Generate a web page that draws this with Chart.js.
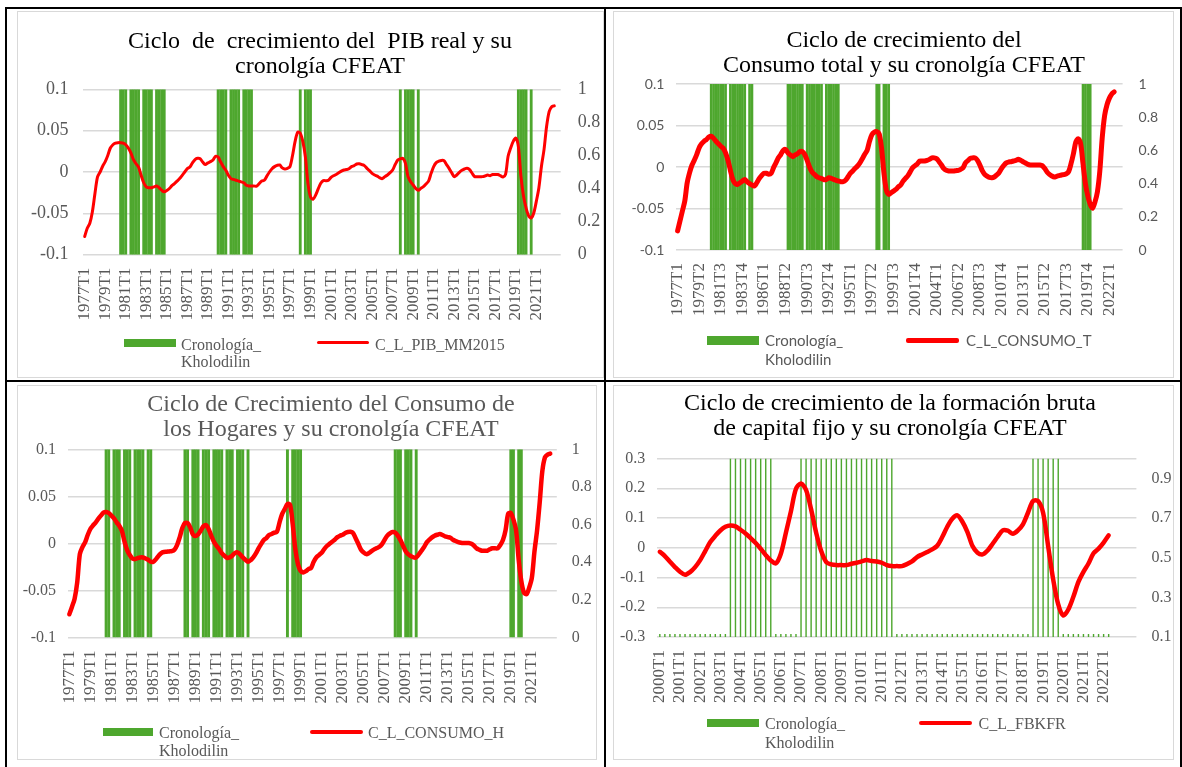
<!DOCTYPE html>
<html lang="es">
<head>
<meta charset="utf-8">
<title>Ciclos de crecimiento y cronología CFEAT</title>
<script src="https://cdn.jsdelivr.net/npm/chart.js@4.4.1/dist/chart.umd.min.js"></script>
<style>
  html, body { margin: 0; padding: 0; background: #fff; }
  #page { position: relative; width: 1182px; height: 767px; overflow: hidden; }
  .rule { position: absolute; background: #000; }
  .box { position: absolute; box-sizing: border-box; border: 1px solid #d9d9d9; background: #fff; }
  .box canvas { position: absolute; left: 0; top: 0; }
  .title { position: absolute; width: 520px; text-align: center; font-family: "Liberation Serif", serif;
           font-size: 24px; line-height: 24.5px; color: #000; white-space: pre; }
  .sw { position: absolute; background: #4ea72e; }
  .ln { position: absolute; background: #ff0000; border-radius: 2px; }
  .lg { position: absolute; font-family: "Liberation Serif", serif; font-size: 16px; line-height: 17px;
        color: #595959; white-space: pre; }
  .lg.sans { font-family: Lato, sans-serif; font-size: 15px; line-height: 19px; }
</style>
</head>
<body>
<div id="page">
  <div class="box" style="left:17px;top:11px;width:587px;height:367px"><canvas id="pibChart" width="585" height="365"></canvas></div>
  <div class="box" style="left:613px;top:11px;width:561px;height:367px"><canvas id="consumoTChart" width="559" height="365"></canvas></div>
  <div class="box" style="left:17px;top:385px;width:580px;height:375px"><canvas id="consumoHChart" width="578" height="373"></canvas></div>
  <div class="box" style="left:613px;top:385px;width:561px;height:375px"><canvas id="fbkfChart" width="559" height="373"></canvas></div>

  <div class="rule" style="left:5px;top:7px;width:1177px;height:2px"></div>
  <div class="rule" style="left:5px;top:380px;width:1177px;height:2px"></div>
  <div class="rule" style="left:5px;top:7px;width:2px;height:760px"></div>
  <div class="rule" style="left:604px;top:7px;width:2px;height:760px"></div>
  <div class="rule" style="left:1180px;top:7px;width:2px;height:760px"></div>

  <div class="title" style="left:60px;top:28px">Ciclo  de  crecimiento del  PIB real y su
cronolgía CFEAT</div>
  <div class="title" style="left:644px;top:27.3px">Ciclo de crecimiento del
Consumo total y su cronolgía CFEAT</div>
  <div class="title" style="left:71px;top:391.3px;color:#595959">Ciclo de Crecimiento del Consumo de
los Hogares y su cronolgía CFEAT</div>
  <div class="title" style="left:630px;top:390.3px">Ciclo de crecimiento de la formación bruta
de capital fijo y su cronolgía CFEAT</div>

  <div class="sw" style="left:124px;top:339px;width:52px;height:8px"></div>
  <div class="lg" style="left:181px;top:336px">Cronología_
Kholodilin</div>
  <div class="ln" style="left:317px;top:340.5px;width:52px;height:3px"></div>
  <div class="lg" style="left:375px;top:336px">C_L_PIB_MM2015</div>

  <div class="sw" style="left:707px;top:336px;width:52px;height:9px"></div>
  <div class="lg sans" style="left:765px;top:330.7px">Cronología_
Kholodilin</div>
  <div class="ln" style="left:906px;top:338px;width:53px;height:4.5px"></div>
  <div class="lg sans" style="left:966px;top:330.7px">C_L_CONSUMO_T</div>

  <div class="sw" style="left:102.6px;top:728.3px;width:50.5px;height:7.7px"></div>
  <div class="lg" style="left:159px;top:723.7px;line-height:18.4px">Cronología_
Kholodilin</div>
  <div class="ln" style="left:310px;top:729.7px;width:53px;height:4px"></div>
  <div class="lg" style="left:368px;top:723.7px">C_L_CONSUMO_H</div>

  <div class="sw" style="left:707px;top:719.3px;width:52px;height:7.4px"></div>
  <div class="lg" style="left:765px;top:715.4px;line-height:18.3px">Cronología_
Kholodilin</div>
  <div class="ln" style="left:919px;top:720.7px;width:53px;height:4px"></div>
  <div class="lg" style="left:978.6px;top:715.4px">C_L_FBKFR</div>
</div>

<script>
// ---- data ----
// quarterly axes: first year, quarters with data, trailing unlabeled categories
const quarterAxisLong = { start: 1977, count: 184, blanks: 2 };
const quarterAxisFbkf = { start: 2000, count: 90, blanks: 5 };

const leftTicksCons = [-0.1, -0.05, 0, 0.05, 0.1];
const rightTicksCons = [0, 0.2, 0.4, 0.6, 0.8, 1];
const leftTicksFbkf = [-0.3, -0.2, -0.1, 0, 0.1, 0.2, 0.3];
const rightTicksFbkf = [0.1, 0.3, 0.5, 0.7, 0.9];

// C_L_PIB_MM2015, 1977T1..2022T4
const pibCycle = [
  -0.078, -0.068, -0.062, -0.048,
  -0.026, -0.006, 0.000, 0.007,
  0.0125, 0.020, 0.029, 0.033,
  0.035, 0.0355, 0.0355, 0.035,
  0.033, 0.029, 0.023, 0.015,
  0.010, 0.006, -0.004, -0.013,
  -0.018, -0.019, -0.019, -0.018,
  -0.017, -0.019, -0.022, -0.024,
  -0.0225, -0.020, -0.0165, -0.014,
  -0.011, -0.008, -0.004, 0.000,
  0.004, 0.006, 0.011, 0.015,
  0.0165, 0.016, 0.012, 0.009,
  0.011, 0.0125, 0.0145, 0.019,
  0.018, 0.012, 0.0065, 0.002,
  -0.004, -0.008, -0.009, -0.010,
  -0.011, -0.012, -0.013, -0.016,
  -0.017, -0.017, -0.017, -0.017,
  -0.014, -0.011, -0.010, -0.005,
  0.000, 0.004, 0.0065, 0.008,
  0.0085, 0.005, 0.0036, 0.0044,
  0.0065, 0.020, 0.037, 0.048,
  0.047, 0.037, 0.0185, -0.0137,
  -0.030, -0.033, -0.028, -0.0205,
  -0.0137, -0.0105, -0.0105, -0.010,
  -0.0065, -0.0045, -0.003, -0.001,
  0.001, 0.0024, 0.003, 0.004,
  0.0065, 0.0077, 0.0097, 0.010,
  0.009, 0.0077, 0.0044, 0.0016,
  -0.0016, -0.0036, -0.005, -0.007,
  -0.008, -0.0056, -0.0036, -0.0008,
  0.0024, 0.009, 0.0145, 0.016,
  0.0165, 0.0105, -0.0056, -0.0117,
  -0.0157, -0.0198, -0.022, -0.0198,
  -0.0177, -0.0145, -0.011, -0.0016,
  0.0065, 0.0113, 0.013, 0.014,
  0.0137, 0.009, 0.0044, -0.0008,
  -0.0056, -0.0036, -0.0004, 0.002,
  0.0036, 0.0044, 0.0028, -0.0016,
  -0.0056, -0.0056, -0.0056, -0.0056,
  -0.0048, -0.0036, -0.0044, -0.003,
  -0.003, -0.003, -0.0045, -0.006,
  -0.003, 0.019, 0.029, 0.037,
  0.041, 0.031, -0.005, -0.029,
  -0.0435, -0.053, -0.0556, -0.0496,
  -0.0355, -0.019, 0.007, 0.027,
  0.055, 0.073, 0.079, 0.080
];

// C_L_CONSUMO_T, 1977T1..2022T3
const consumoTCycle = [
  -0.077, -0.065, -0.053, -0.041,
  -0.019, -0.0068, 0.0024, 0.0084,
  0.0153, 0.0233, 0.028, 0.031,
  0.033, 0.036, 0.037, 0.0345,
  0.031, 0.028, 0.025, 0.0225,
  0.017, 0.008, -0.004, -0.015,
  -0.020, -0.021, -0.019, -0.017,
  -0.015, -0.018, -0.020, -0.0217,
  -0.023, -0.019, -0.014, -0.0104,
  -0.0076, -0.0076, -0.0088, -0.0076,
  -0.0008, 0.005, 0.011, 0.015,
  0.020, 0.021, 0.017, 0.0145,
  0.0125, 0.0145, 0.016, 0.0185,
  0.0185, 0.015, 0.008, 0.000,
  -0.006, -0.0088, -0.0116, -0.0129,
  -0.014, -0.0153, -0.0149, -0.0129,
  -0.0137, -0.0149, -0.016, -0.0169,
  -0.0177, -0.0177, -0.016, -0.012,
  -0.0076, -0.0048, -0.0016, 0.0012,
  0.005, 0.010, 0.0153, 0.020,
  0.031, 0.039, 0.042, 0.0425,
  0.040, 0.023, -0.0068, -0.0277,
  -0.033, -0.031, -0.029, -0.027,
  -0.024, -0.0217, -0.017, -0.0137,
  -0.0104, -0.0056, -0.0008, 0.0016,
  0.004, 0.0072, 0.0072, 0.0072,
  0.008, 0.0092, 0.011, 0.011,
  0.010, 0.0064, 0.0024, -0.002,
  -0.004, -0.0048, -0.0048, -0.0048,
  -0.0044, -0.004, -0.0028, -0.0008,
  0.005, 0.0076, 0.0104, 0.011,
  0.011, 0.008, 0.0024, -0.0044,
  -0.0088, -0.011, -0.0125, -0.0129,
  -0.012, -0.0096, -0.0068, -0.002,
  0.002, 0.005, 0.006, 0.0064,
  0.0072, 0.008, 0.0092, 0.008,
  0.0064, 0.0048, 0.0032, 0.0024,
  0.0024, 0.0024, 0.0024, 0.0024,
  0.0016, -0.0016, -0.006, -0.0088,
  -0.0108, -0.012, -0.0112, -0.0104,
  -0.0096, -0.0092, -0.0084, -0.0056,
  0.004, 0.016, 0.030, 0.034,
  0.028, 0.004, -0.020, -0.035,
  -0.045, -0.0496, -0.042, -0.030,
  -0.005, 0.035, 0.062, 0.075,
  0.083, 0.088, 0.0905
];

// C_L_CONSUMO_H, 1977T1..2022T4
const consumoHCycle = [
  -0.0753, -0.0675, -0.059, -0.0416,
  -0.0114, -0.0039, 0.0011, 0.0089,
  0.0153, 0.019, 0.022, 0.026,
  0.0295, 0.0327, 0.0334, 0.0323,
  0.0295, 0.0266, 0.0224, 0.0188,
  0.0135, 0.0018, -0.0071, -0.0124,
  -0.016, -0.0167, -0.0156, -0.0149,
  -0.0149, -0.016, -0.0174, -0.0195,
  -0.0195, -0.0167, -0.0131, -0.0103,
  -0.0092, -0.0089, -0.0085, -0.0082,
  -0.0067, -0.0018, 0.0064, 0.0163,
  0.0217, 0.0217, 0.017, 0.0096,
  0.0078, 0.0096, 0.0135, 0.0181,
  0.0195, 0.0153, 0.0082, 0.0018,
  -0.0025, -0.006, -0.0103, -0.0131,
  -0.0153, -0.0149, -0.0131, -0.0103,
  -0.0096, -0.0117, -0.0149, -0.0174,
  -0.0195, -0.0178, -0.0149, -0.0107,
  -0.0053, -0.0007, 0.0036, 0.0057,
  0.009, 0.010, 0.0114, 0.0124,
  0.0224, 0.0313, 0.0366, 0.0419,
  0.0409, 0.0206, -0.006, -0.022,
  -0.0291, -0.0309, -0.0295, -0.0274,
  -0.026, -0.0195, -0.0149, -0.0124,
  -0.0099, -0.006, -0.0028, -0.0004,
  0.0018, 0.0039, 0.0067, 0.0082,
  0.0092, 0.011, 0.0121, 0.0124,
  0.011, 0.0053, -0.0007, -0.0067,
  -0.0096, -0.0114, -0.0103, -0.0082,
  -0.0064, -0.005, -0.0036, -0.0007,
  0.0039, 0.0082, 0.0107, 0.0121,
  0.0114, 0.0082, 0.0036, -0.0025,
  -0.0085, -0.0117, -0.0135, -0.0149,
  -0.0149, -0.0117, -0.0078, -0.0039,
  0.0011, 0.0039, 0.0064, 0.0082,
  0.0092, 0.0099, 0.0089, 0.0075,
  0.0067, 0.006, 0.0039, 0.0025,
  0.0014, 0.0007, 0.0004, 0.0004,
  0.0004, -0.0004, -0.0025, -0.0053,
  -0.0067, -0.0078, -0.0078, -0.0078,
  -0.0063, -0.0052, -0.0052, -0.0052,
  -0.0017, 0.0035, 0.014, 0.0315,
  0.0322, 0.0252, 0.014, -0.0175,
  -0.0402, -0.0524, -0.054, -0.047,
  -0.0367, -0.0087, 0.014, 0.0437,
  0.0769, 0.0916, 0.0944, 0.0955
];

// C_L_FBKFR, 2000T1..2022T2
const fbkfCycle = [
  -0.0135, -0.028, -0.047, -0.065,
  -0.0807, -0.0908, -0.0818, -0.065,
  -0.0415, -0.0112, 0.019, 0.040,
  0.058, 0.0706, 0.075, 0.0717,
  0.0605, 0.048, 0.0325, 0.0157,
  -0.0034, -0.0247, -0.0426, -0.0527,
  -0.0202, 0.0504, 0.123, 0.198,
  0.216, 0.194, 0.129, 0.0504,
  -0.0112, -0.048, -0.056, -0.0583,
  -0.0583, -0.0583, -0.0538, -0.0504,
  -0.046, -0.0415, -0.0448, -0.046,
  -0.0504, -0.0583, -0.0617, -0.0617,
  -0.0617, -0.055, -0.046, -0.0314,
  -0.0224, -0.0146, -0.0056, 0.0067,
  0.0359, 0.0706, 0.0975, 0.1087,
  0.0874, 0.0527, 0.0056, -0.0168,
  -0.0224, -0.009, 0.0135, 0.037,
  0.0583, 0.0572, 0.0471, 0.0583,
  0.0785, 0.1177, 0.157, 0.157,
  0.1177, 0.0056, -0.1065, -0.1906,
  -0.2276, -0.2074, -0.1648, -0.115,
  -0.081, -0.053, -0.0185, -0.0028,
  0.0174, 0.042
];

// Cronología Kholodilin: quarters flagged 1 (first, last)
const pibRecessions = [
  ['1980T3', '1981T1'], ['1981T3', '1982T2'], ['1982T4', '1983T3'], ['1984T1', '1984T4'],
  ['1990T1', '1990T4'], ['1991T2', '1992T1'], ['1992T3', '1993T2'],
  ['1998T1', '1998T1'], ['1998T3', '1999T1'],
  ['2007T4', '2007T4'], ['2008T2', '2009T1'], ['2009T3', '2009T3'],
  ['2019T2', '2020T1'], ['2020T3', '2020T3']
];
const consumoTRecessions = [
  ['1980T3', '1982T1'], ['1982T3', '1984T1'], ['1984T3', '1984T4'],
  ['1988T3', '1990T1'], ['1990T3', '1992T1'], ['1992T3', '1993T4'],
  ['1997T4', '1998T1'], ['1998T3', '1999T1'],
  ['2019T2', '2020T1']
];
const consumoHRecessions = [
  ['1980T3', '1980T4'], ['1981T2', '1981T4'], ['1982T2', '1982T4'], ['1983T2', '1984T1'], ['1984T3', '1984T4'],
  ['1988T1', '1988T2'], ['1988T4', '1989T2'], ['1989T4', '1990T2'], ['1990T4', '1991T3'],
  ['1992T1', '1992T3'], ['1993T1', '1993T3'], ['1994T1', '1994T1'],
  ['1997T4', '1997T4'], ['1998T2', '1999T1'],
  ['2008T1', '2008T3'], ['2009T1', '2009T3'], ['2010T1', '2010T1'],
  ['2019T1', '2019T2'], ['2019T4', '2020T1']
];
const fbkfRecessions = [
  ['2003T3', '2005T3'], ['2007T1', '2011T3'], ['2018T3', '2019T4']
];

// ---- helpers ----
function quarterLabels(axis) {
  const out = [];
  for (let i = 0; i < axis.count; i++) out.push((axis.start + Math.floor(i / 4)) + 'T' + (i % 4 + 1));
  for (let j = 0; j < axis.blanks; j++) out.push('');
  return out;
}

function cronologia(labels, ranges, count) {
  return labels.map((lab, i) => {
    if (i >= count) return null;
    return ranges.some(([a, b]) => lab >= a && lab <= b) ? 1 : 0;
  });
}

function everyNth(n) {
  return function (value, index) {
    return index % n === 0 ? this.getLabelForValue(value) : '';
  };
}

const fmt = (v) => String(Math.round(v * 100) / 100);
const SERIF = '"Liberation Serif", serif';
const GREY = '#595959';

function renderCycleChart(canvasId, o) {
  const tickFont = { family: o.tickFamily || SERIF, size: o.tickSize };
  return new Chart(document.getElementById(canvasId), {
    type: 'bar',
    data: {
      labels: o.labels,
      datasets: [
        {
          type: 'line', label: o.lineName, data: o.line, yAxisID: 'y',
          borderColor: '#ff0000', borderWidth: o.lineWidth, pointRadius: 0,
          tension: 0.3, borderCapStyle: 'round', borderJoinStyle: 'round', order: 0
        },
        {
          type: 'bar', label: 'Cronología_ Kholodilin', data: o.bars, yAxisID: 'y1',
          backgroundColor: '#4ea72e', barPercentage: o.barPct, categoryPercentage: 1,
          minBarLength: o.minBar || 0, clip: 0, order: 1
        }
      ]
    },
    options: {
      responsive: false,
      animation: false,
      events: [],
      layout: { padding: { left: 0, right: 0, top: o.padTop, bottom: o.padBottom } },
      plugins: { legend: { display: false }, tooltip: { enabled: false }, title: { display: false } },
      scales: {
        x: {
          grid: { display: false, drawTicks: false },
          border: { display: false },
          afterFit: (s) => { s.height = 96; },
          ticks: {
            autoSkip: false, minRotation: 90, maxRotation: 90, padding: 13,
            color: GREY, font: { family: SERIF, size: 17 }, callback: everyNth(o.every)
          }
        },
        y: {
          position: 'left',
          min: o.leftTicks[0], max: o.leftTicks[o.leftTicks.length - 1],
          afterBuildTicks: (s) => { s.ticks = o.leftTicks.map((v) => ({ value: v })); },
          afterFit: (s) => { s.width = o.leftW; },
          grid: { color: '#d9d9d9', lineWidth: 1.5, drawTicks: false },
          border: { display: false },
          ticks: { padding: o.leftPad, color: GREY, font: tickFont, callback: fmt }
        },
        y1: {
          position: 'right',
          min: o.rightMin, max: o.rightMax,
          afterBuildTicks: (s) => { s.ticks = o.rightTicks.map((v) => ({ value: v })); },
          afterFit: (s) => { s.width = o.rightW; },
          grid: { display: false, drawTicks: false },
          border: { display: false },
          ticks: { padding: o.rightPad, color: GREY, font: tickFont, callback: fmt }
        }
      }
    }
  });
}

const longLabels = quarterLabels(quarterAxisLong);
const fbkfLabels = quarterLabels(quarterAxisFbkf);

renderCycleChart('pibChart', {
  labels: longLabels, line: pibCycle, lineName: 'C_L_PIB_MM2015', lineWidth: 3,
  bars: cronologia(longLabels, pibRecessions, quarterAxisLong.count), barPct: 1.1,
  every: 8, tickSize: 18, leftTicks: leftTicksCons, rightTicks: rightTicksCons, rightMin: 0, rightMax: 1,
  leftW: 65.4, rightW: 42.3, leftPad: 15, rightPad: 17, padTop: 77.3, padBottom: 26.3
});

renderCycleChart('consumoTChart', {
  labels: longLabels, line: consumoTCycle, lineName: 'C_L_CONSUMO_T', lineWidth: 5,
  bars: cronologia(longLabels, consumoTRecessions, quarterAxisLong.count), barPct: 1.1,
  every: 9, tickSize: 14, tickFamily: 'Lato, sans-serif',
  leftTicks: leftTicksCons, rightTicks: rightTicksCons, rightMin: 0, rightMax: 1,
  leftW: 62.4, rightW: 50.4, leftPad: 12, rightPad: 16, padTop: 72, padBottom: 31
});

renderCycleChart('consumoHChart', {
  labels: longLabels, line: consumoHCycle, lineName: 'C_L_CONSUMO_H', lineWidth: 4.5,
  bars: cronologia(longLabels, consumoHRecessions, quarterAxisLong.count), barPct: 1.1,
  every: 8, tickSize: 16, leftTicks: leftTicksCons, rightTicks: rightTicksCons, rightMin: 0, rightMax: 1,
  leftW: 50, rightW: 39.2, leftPad: 12, rightPad: 15, padTop: 63.3, padBottom: 25.5
});

renderCycleChart('fbkfChart', {
  labels: fbkfLabels, line: fbkfCycle, lineName: 'C_L_FBKFR', lineWidth: 4.5,
  bars: cronologia(fbkfLabels, fbkfRecessions, quarterAxisFbkf.count), barPct: 0.28, minBar: 3,
  every: 4, tickSize: 16, leftTicks: leftTicksFbkf, rightTicks: rightTicksFbkf, rightMin: 0.1, rightMax: 1,
  leftW: 43.3, rightW: 36.6, leftPad: 12, rightPad: 15, padTop: 72.5, padBottom: 26
});
</script>
</body>
</html>
